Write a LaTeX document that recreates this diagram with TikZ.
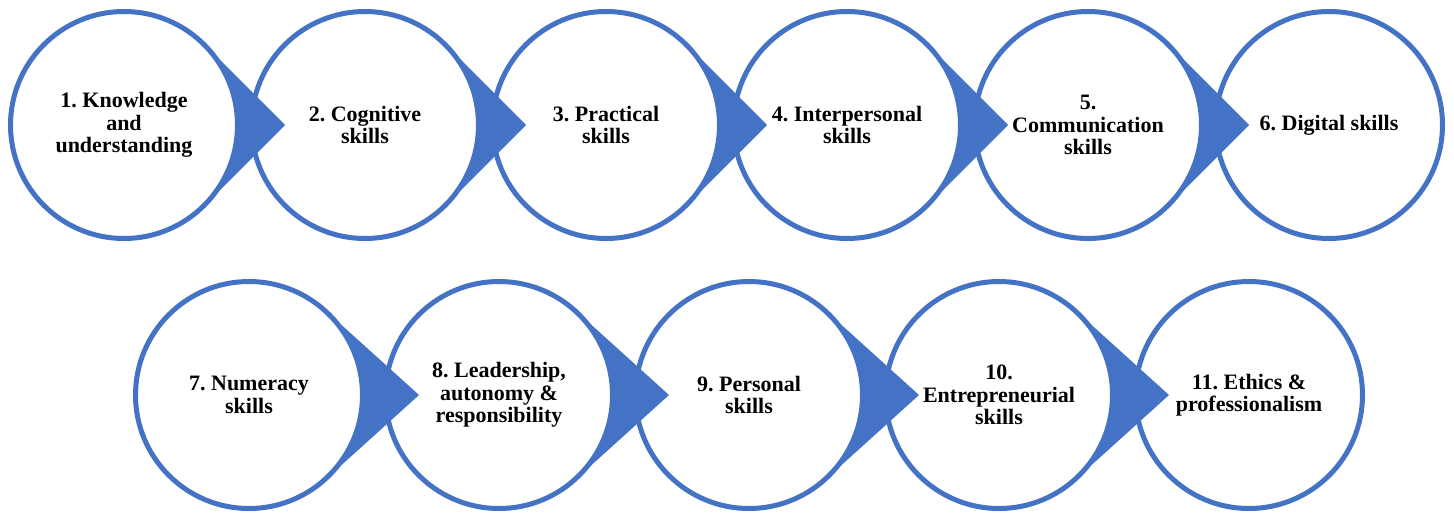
\documentclass[tikz,border=0pt]{standalone}
\usepackage{fontspec}
\setmainfont{Liberation Serif}
\usetikzlibrary{calc}
\definecolor{ringblue}{RGB}{68,114,196}

% Arrow-shaped wedge leaving the right side of circle #1 and pointing into circle #2
\newcommand\skillpointer[2]{%
  \fill[ringblue] let \p1=(#1.center), \p2=($(#2.west)+(36,0)$),
     \n1={veclen(\x2-\x1,\y2-\y1)}, \n2={acos(57/\n1)} in
     (\p2) -- ($(\p1)+(\n2:57pt)$)
     arc[start angle=\n2, end angle=-\n2, radius=57pt] -- cycle;}

\begin{document}
\begin{tikzpicture}[x=0.5pt,y=0.5pt,
  skill/.style={circle, draw=ringblue, line width=2.5pt, fill=white,
    minimum size=113.5pt, inner sep=0pt, align=center,
    font=\bfseries\frenchspacing\fontsize{11}{11.25}\selectfont}]
\useasboundingbox (0,0) rectangle (1454,516);

% upper row
\node[skill] (c1) at (124,391) {1. Knowledge\\and\\understanding};
\node[skill] (c2) at (365,391) {2. Cognitive\\skills};
\node[skill] (c3) at (606,391) {3. Practical\\skills};
\node[skill] (c4) at (847,391) {4. Interpersonal\\skills};
\node[skill] (c5) at (1088,391) {5.\\Communication\\skills};
\node[skill] (c6) at (1329,391) {6. Digital skills};

% lower row
\node[skill] (c7) at (249,121) {7. Numeracy\\skills};
\node[skill] (c8) at (499,121) {8. Leadership,\\autonomy \&\\responsibility};
\node[skill] (c9) at (749,121) {9. Personal\\skills};
\node[skill] (c10) at (999,121) {10.\\Entrepreneurial\\skills};
\node[skill] (c11) at (1249,121) {11. Ethics \&\\professionalism};

% wedges between neighbouring circles
\skillpointer{c1}{c2}
\skillpointer{c2}{c3}
\skillpointer{c3}{c4}
\skillpointer{c4}{c5}
\skillpointer{c5}{c6}
\skillpointer{c7}{c8}
\skillpointer{c8}{c9}
\skillpointer{c9}{c10}
\skillpointer{c10}{c11}
\end{tikzpicture}
\end{document}
